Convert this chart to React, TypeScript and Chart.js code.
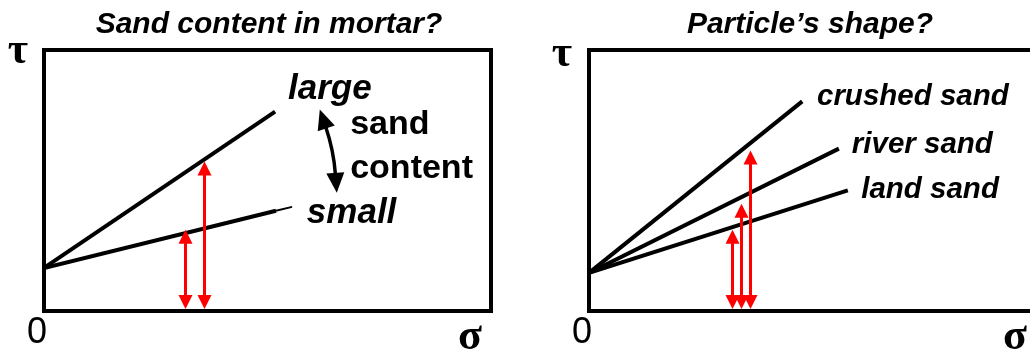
import React, { useEffect, useRef } from "react";
import { Chart, registerables } from "chart.js";

Chart.register(...registerables);

// ---------- shared axis range (normalised sigma / tau) ----------
const sigmaMin = 0;
const sigmaMax = 100;
const tauMin = 0;
const tauMax = 100;

// ---------- Panel A: sand content in mortar ----------
const mortarTitle = "Sand content in mortar?";
const mortarSeries = ["large", "small"];
const mortarSigma = [
  [0, 51.7],
  [0, 51.9, 55.5],
];
const mortarTau = [
  [16.5, 76.4],
  [16.5, 38.4, 39.9],
];
const mortarThinFrom = [null, 1];
const mortarArrowSigma = [31.5, 35.7];
const mortarArrowTau = [31.1, 57.3];
const mortarLabels = ["large", "sand", "content", "small"];

// ---------- Panel B: particle shape ----------
const shapeTitle = "Particle\u2019s shape?";
const shapeSeries = ["crushed sand", "river sand", "land sand"];
const shapeSigma = [
  [0, 47.7],
  [0, 55.9],
  [0, 57.9],
];
const shapeTau = [
  [14.6, 80.3],
  [14.6, 62.2],
  [14.6, 46.2],
];
const shapeThinFrom = [null, null, null];
const shapeArrowSigma = [32.1, 34.0, 36.0];
const shapeArrowTau = [31.1, 41.1, 61.5];
const shapeLabels = ["crushed sand", "river sand", "land sand"];

// ---------- layout / style (kept apart from data) ----------
const SANS = "'Liberation Sans', Arial, Helvetica, sans-serif";
const SERIF = "'Liberation Serif', 'Times New Roman', serif";

type LabelPos = { x: number; y: number; font: string };

const panelA = {
  canvasW: 515,
  padding: { left: 44, right: 24, top: 50, bottom: 43 },
  title: mortarTitle,
  titleX: 269,
  series: mortarSeries,
  sigma: mortarSigma,
  tau: mortarTau,
  thinFrom: mortarThinFrom,
  arrowSigma: mortarArrowSigma,
  arrowTau: mortarArrowTau,
  labels: mortarLabels,
  labelPos: [
    { x: 54.6, y: 81.4, font: `italic bold 35px ${SANS}` },
    { x: 68.5, y: 67.9, font: `bold 34px ${SANS}` },
    { x: 68.5, y: 51.1, font: `bold 34px ${SANS}` },
    { x: 58.8, y: 33.8, font: `italic bold 35px ${SANS}` },
  ] as LabelPos[],
  curved: { from: [61.7, 77.2], ctrl: [64.8, 61.6], to: [65.5, 45.3] },
  tauPos: [18, 52],
  zeroPos: [37, 333],
  sigmaPos: [470, 338],
};

const panelB = {
  canvasW: 540,
  padding: { left: 74, right: 19, top: 50, bottom: 43 },
  title: shapeTitle,
  titleX: 295,
  series: shapeSeries,
  sigma: shapeSigma,
  tau: shapeTau,
  thinFrom: shapeThinFrom,
  arrowSigma: shapeArrowSigma,
  arrowTau: shapeArrowTau,
  labels: shapeLabels,
  labelPos: [
    { x: 51.0, y: 79.1, font: `italic bold 29.5px ${SANS}` },
    { x: 58.8, y: 60.7, font: `italic bold 29.5px ${SANS}` },
    { x: 60.9, y: 43.4, font: `italic bold 29.5px ${SANS}` },
  ] as LabelPos[],
  curved: null as null | { from: number[]; ctrl: number[]; to: number[] },
  tauPos: [47, 55],
  zeroPos: [67, 333],
  sigmaPos: [500, 338],
};

type Panel = typeof panelA;

function drawHead(
  ctx: CanvasRenderingContext2D,
  tipX: number,
  tipY: number,
  dirX: number,
  dirY: number,
  len: number,
  width: number
) {
  // dir points from tip into the shaft
  const n = Math.hypot(dirX, dirY) || 1;
  const ux = dirX / n;
  const uy = dirY / n;
  const bx = tipX + ux * len;
  const by = tipY + uy * len;
  const px = -uy;
  const py = ux;
  ctx.beginPath();
  ctx.moveTo(tipX, tipY);
  ctx.lineTo(bx + (px * width) / 2, by + (py * width) / 2);
  ctx.lineTo(bx - (px * width) / 2, by - (py * width) / 2);
  ctx.closePath();
  ctx.fill();
}

function decorPlugin(panel: Panel) {
  return {
    id: "decor",
    afterDatasetsDraw(chart: any) {
      const { ctx, chartArea } = chart;
      const xs = chart.scales.x;
      const ys = chart.scales.y;
      ctx.save();

      // red double-headed arrows
      const headL = 14;
      const headW = 14;
      ctx.fillStyle = "#ff0000";
      ctx.strokeStyle = "#ff0000";
      ctx.lineWidth = 3;
      ctx.lineCap = "butt";
      panel.arrowSigma.forEach((s, i) => {
        const px = Math.round(xs.getPixelForValue(s)) + 0.5;
        const yTop = ys.getPixelForValue(panel.arrowTau[i]);
        const yBot = ys.getPixelForValue(tauMin) - 2;
        ctx.beginPath();
        ctx.moveTo(px, yTop + headL - 1);
        ctx.lineTo(px, yBot - headL + 1);
        ctx.stroke();
        drawHead(ctx, px, yTop, 0, 1, headL, headW);
        drawHead(ctx, px, yBot, 0, -1, headL, headW);
      });

      // curved black double arrow
      if (panel.curved) {
        const c = panel.curved;
        const p0 = [xs.getPixelForValue(c.from[0]), ys.getPixelForValue(c.from[1])];
        const cc = [xs.getPixelForValue(c.ctrl[0]), ys.getPixelForValue(c.ctrl[1])];
        const p2 = [xs.getPixelForValue(c.to[0]), ys.getPixelForValue(c.to[1])];
        const hl = 20;
        const hw = 18;
        const d0 = [cc[0] - p0[0], cc[1] - p0[1]];
        const d2 = [cc[0] - p2[0], cc[1] - p2[1]];
        const n0 = Math.hypot(d0[0], d0[1]);
        const n2 = Math.hypot(d2[0], d2[1]);
        const s0 = [p0[0] + (d0[0] / n0) * (hl - 2), p0[1] + (d0[1] / n0) * (hl - 2)];
        const s2 = [p2[0] + (d2[0] / n2) * (hl - 2), p2[1] + (d2[1] / n2) * (hl - 2)];
        ctx.strokeStyle = "#000";
        ctx.fillStyle = "#000";
        ctx.lineWidth = 3.5;
        ctx.beginPath();
        ctx.moveTo(s0[0], s0[1]);
        ctx.quadraticCurveTo(cc[0], cc[1], s2[0], s2[1]);
        ctx.stroke();
        drawHead(ctx, p0[0], p0[1], d0[0], d0[1], hl, hw);
        drawHead(ctx, p2[0], p2[1], d2[0], d2[1], hl, hw);
      }

      // frame
      ctx.strokeStyle = "#000";
      ctx.lineWidth = 4;
      ctx.lineJoin = "miter";
      ctx.strokeRect(
        chartArea.left,
        chartArea.top,
        chartArea.right - chartArea.left,
        chartArea.bottom - chartArea.top
      );

      // in-plot labels
      ctx.fillStyle = "#000";
      ctx.textAlign = "left";
      ctx.textBaseline = "alphabetic";
      panel.labels.forEach((t, i) => {
        const p = panel.labelPos[i];
        ctx.font = p.font;
        ctx.fillText(t, xs.getPixelForValue(p.x), ys.getPixelForValue(p.y));
      });

      // title and axis symbols
      ctx.font = `italic bold 30px ${SANS}`;
      ctx.textAlign = "center";
      ctx.fillText(panel.title, panel.titleX, 33);

      ctx.textBaseline = "middle";
      ctx.font = `bold 44px ${SERIF}`;
      ctx.fillText("\u03c4", panel.tauPos[0], panel.tauPos[1]);
      ctx.fillText("\u03c3", panel.sigmaPos[0], panel.sigmaPos[1]);
      ctx.font = `36px ${SANS}`;
      ctx.fillText("0", panel.zeroPos[0], panel.zeroPos[1]);
      ctx.restore();
    },
  };
}

function buildChart(canvas: HTMLCanvasElement, panel: Panel) {
  return new Chart(canvas, {
    type: "scatter",
    data: {
      datasets: panel.series.map((name, i) => ({
        label: name,
        data: panel.sigma[i].map((x, j) => ({ x, y: panel.tau[i][j] })),
        showLine: true,
        borderColor: "#000",
        backgroundColor: "#000",
        borderWidth: 4,
        borderCapStyle: "butt",
        pointRadius: 0,
        fill: false,
        segment: {
          borderWidth: (c: any) =>
            panel.thinFrom[i] != null && c.p0DataIndex >= (panel.thinFrom[i] as number) ? 2 : 4,
        },
      })),
    },
    options: {
      responsive: false,
      animation: false,
      devicePixelRatio: 1,
      events: [],
      layout: { padding: panel.padding },
      scales: {
        x: { type: "linear", min: sigmaMin, max: sigmaMax, display: false },
        y: { type: "linear", min: tauMin, max: tauMax, display: false },
      },
      plugins: {
        legend: { display: false },
        tooltip: { enabled: false },
        title: { display: false },
      },
    } as any,
    plugins: [decorPlugin(panel)],
  });
}

export default function App() {
  const leftRef = useRef<HTMLCanvasElement>(null);
  const rightRef = useRef<HTMLCanvasElement>(null);

  useEffect(() => {
    const a = buildChart(leftRef.current!, panelA);
    const b = buildChart(rightRef.current!, panelB as Panel);
    return () => {
      a.destroy();
      b.destroy();
    };
  }, []);

  return (
    <div
      style={{
        position: "absolute",
        left: 0,
        top: 0,
        width: 1030,
        height: 354,
        overflow: "hidden",
        background: "#fff",
      }}
    >
      <div style={{ position: "absolute", left: 0, top: 0, width: 515, height: 354 }}>
        <canvas ref={leftRef} width={515} height={354} style={{ display: "block", width: 515, height: 354 }} />
      </div>
      <div style={{ position: "absolute", left: 515, top: 0, width: 515, height: 354, overflow: "hidden" }}>
        <canvas ref={rightRef} width={540} height={354} style={{ display: "block", width: 540, height: 354 }} />
      </div>
    </div>
  );
}
